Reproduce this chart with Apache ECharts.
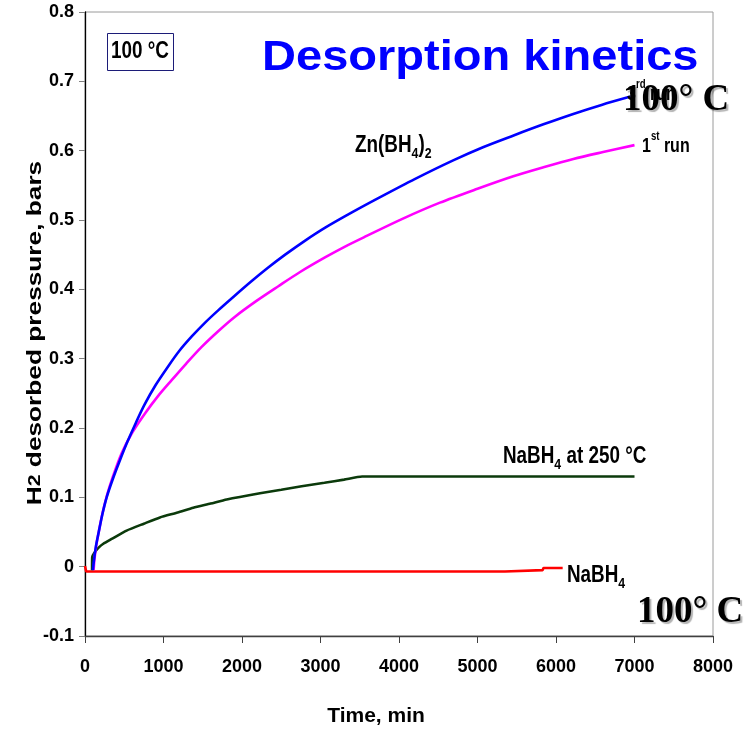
<!DOCTYPE html>
<html>
<head>
<meta charset="utf-8">
<script src="https://cdn.jsdelivr.net/npm/echarts@6/dist/echarts.min.js"></script>
<style>
  html, body { margin: 0; padding: 0; background: #fff; }
  #chart { width: 755px; height: 733px; }
</style>
</head>
<body>
<div id="chart"></div>
<script>
// Zn(BH4)2 at 100 °C, 3rd run
const run3Time = [100, 115, 140, 175, 220, 276, 350, 440, 540, 650, 760, 900, 1060, 1200, 1360, 1530, 1700, 1900, 2120, 2330, 2550, 2800, 3060, 3400, 3760, 4200, 4690, 5070, 5460, 5840, 6220, 6580, 6950];
const run3Pressure = [-0.005, 0.01, 0.03, 0.05, 0.075, 0.1, 0.125, 0.152, 0.18, 0.208, 0.234, 0.262, 0.289, 0.311, 0.332, 0.352, 0.370, 0.390, 0.4115, 0.431, 0.45, 0.47, 0.489, 0.511, 0.533, 0.559, 0.586, 0.605, 0.622, 0.638, 0.653, 0.666, 0.678];

// Zn(BH4)2 at 100 °C, 1st run
const run1Time = [110, 120, 145, 180, 225, 280, 350, 467, 600, 764, 930, 1104, 1290, 1486, 1700, 1911, 2180, 2463, 2740, 3057, 3300, 3588, 4050, 4522, 5000, 5456, 5840, 6221, 6600, 7000];
const run1Pressure = [-0.005, 0.01, 0.032, 0.053, 0.078, 0.103, 0.128, 0.1635, 0.193, 0.221, 0.246, 0.269, 0.293, 0.317, 0.34, 0.3606, 0.383, 0.4045, 0.425, 0.446, 0.461, 0.477, 0.502, 0.525, 0.545, 0.563, 0.576, 0.588, 0.598, 0.608];

// NaBH4 at 250 °C
const hotTime = [90, 92, 120, 170, 233, 340, 530, 750, 955, 1180, 1380, 1600, 1805, 2229, 2500, 2760, 3050, 3300, 3530, 4500, 5500, 7000];
const hotPressure = [-0.005, 0.014, 0.02, 0.027, 0.033, 0.04, 0.052, 0.062, 0.071, 0.078, 0.085, 0.091, 0.097, 0.106, 0.111, 0.116, 0.121, 0.1255, 0.13, 0.13, 0.13, 0.13];

// NaBH4 at 100 °C
const coldTime = [0, 15, 5350, 5360, 5830, 5840, 6085];
const coldPressure = [0.001, -0.007, -0.007, -0.005, -0.005, -0.002, -0.002];

// Axis ticks
const timeTicks = [0, 1000, 2000, 3000, 4000, 5000, 6000, 7000, 8000];
const pressureTicks = [-0.1, 0, 0.1, 0.2, 0.3, 0.4, 0.5, 0.6, 0.7, 0.8];

const pairs = (xs, ys) => xs.map((x, i) => [x, ys[i]]);

const SANS = '"Liberation Sans", Arial, sans-serif';
const SERIF = '"Liberation Serif", "Times New Roman", serif';

const chart = echarts.init(document.getElementById('chart'), null, { renderer: 'canvas' });

function lineSeries(name, data, color, smooth) {
  return {
    name, type: 'line', data,
    showSymbol: false, symbol: 'none',
    smooth,
    lineStyle: { color, width: 2.6 },
    z: 3, animation: false
  };
}

// rich text styles for labels with sub/superscripts
const labelRich = (size) => ({
  m: { fontSize: size, fontWeight: 'bold', fontFamily: SANS, lineHeight: 30, fill: '#000' },
  sub: { fontSize: Math.round(size * 0.65), fontWeight: 'bold', fontFamily: SANS, lineHeight: 16, verticalAlign: 'bottom', fill: '#000' },
  sup: { fontSize: Math.round(size * 0.62), fontWeight: 'bold', fontFamily: SANS, lineHeight: 11, verticalAlign: 'top', fill: '#000' }
});

function condensedLabel(x, y, text, size, squeeze) {
  return {
    type: 'text', x, y, scaleX: squeeze, z: 20,
    style: { text, rich: labelRich(size), align: 'left', verticalAlign: 'middle' }
  };
}

const serifTemp = (x, y) => ({
  type: 'text', x, y, z: 30,
  style: {
    text: '100° C', font: 'bold 37px ' + SERIF, fill: '#000',
    align: 'left', verticalAlign: 'middle',
    textShadowColor: 'rgba(0,0,0,0.3)', textShadowOffsetX: 2, textShadowOffsetY: 2, textShadowBlur: 1
  }
});

chart.setOption({
  backgroundColor: '#fff',
  animation: false,
  grid: { left: 85, right: 42, top: 12, bottom: 97, show: true, borderColor: '#9a9a9a', borderWidth: 1, backgroundColor: 'transparent' },
  xAxis: {
    type: 'value', min: timeTicks[0], max: timeTicks[timeTicks.length - 1], interval: 1000,
    axisLine: { onZero: false, lineStyle: { color: '#404040', width: 1.3 } },
    axisTick: { show: true, length: 7, lineStyle: { color: '#404040' } },
    axisLabel: { color: '#000', fontWeight: 'bold', fontSize: 18, fontFamily: SANS, margin: 22, formatter: v => String(v) },
    splitLine: { show: false }
  },
  yAxis: {
    type: 'value', min: pressureTicks[0], max: pressureTicks[pressureTicks.length - 1], interval: 0.1,
    axisLine: { show: true, onZero: false, lineStyle: { color: '#000', width: 1.3 } },
    axisTick: { show: true, length: 6, lineStyle: { color: '#808080' } },
    axisLabel: {
      color: '#000', fontWeight: 'bold', fontSize: 18, fontFamily: SANS, margin: 11,
      formatter: v => String(Math.round(v * 10) / 10)
    },
    splitLine: { show: false }
  },
  series: [
    lineSeries('NaBH4 100 °C', pairs(coldTime, coldPressure), '#ff0000', false),
    lineSeries('NaBH4 250 °C', pairs(hotTime, hotPressure), '#0b3a0b', 0.2),
    lineSeries('1st run', pairs(run1Time, run1Pressure), '#ff00ff', 0.3),
    lineSeries('3rd run', pairs(run3Time, run3Pressure), '#0000ff', 0.3)
  ],
  graphic: [
    // chart heading
    {
      type: 'text', x: 262, y: 58, scaleX: 1.12, z: 20,
      style: { text: 'Desorption kinetics', font: 'bold 42px ' + SANS, fill: '#0000ff', align: 'left', verticalAlign: 'middle' }
    },
    // temperature box
    {
      type: 'rect', shape: { x: 107.5, y: 33.5, width: 66, height: 37 }, z: 20,
      style: { fill: '#fff', stroke: '#1c1c78', lineWidth: 1 }
    },
    {
      type: 'text', x: 140, y: 52, scaleX: 0.82, z: 21,
      style: { text: '100 °C', font: 'bold 23px ' + SANS, fill: '#000', align: 'center', verticalAlign: 'middle' }
    },
    // curve labels
    condensedLabel(355, 146, '{m|Zn(BH}{sub|4}{m|)}{sub|2}', 23, 0.82),
    condensedLabel(627, 94, '{m|3}{sup|rd}{m| run}', 20, 0.8),
    condensedLabel(642, 146, '{m|1}{sup|st}{m| run}', 20, 0.8),
    condensedLabel(503, 457, '{m|NaBH}{sub|4}{m| at 250 °C}', 23, 0.82),
    condensedLabel(567, 576, '{m|NaBH}{sub|4}', 23, 0.82),
    serifTemp(623, 100),
    serifTemp(637, 612),
    // axis titles
    {
      type: 'text', x: 376, y: 716, z: 20,
      style: { text: 'Time, min', font: 'bold 21px ' + SANS, fill: '#000', align: 'center', verticalAlign: 'middle' }
    },
    {
      type: 'text', x: 35, y: 333, rotation: Math.PI / 2, scaleX: 1.25, z: 20,
      style: {
        text: '{m|H}{s|2}{m| desorbed pressure, bars}',
        align: 'center', verticalAlign: 'middle',
        rich: {
          m: { fontSize: 21, fontWeight: 'bold', fontFamily: SANS, lineHeight: 26, fill: '#000' },
          s: { fontSize: 17, fontWeight: 'bold', fontFamily: SANS, lineHeight: 26, fill: '#000' }
        }
      }
    }
  ]
});
</script>
</body>
</html>
